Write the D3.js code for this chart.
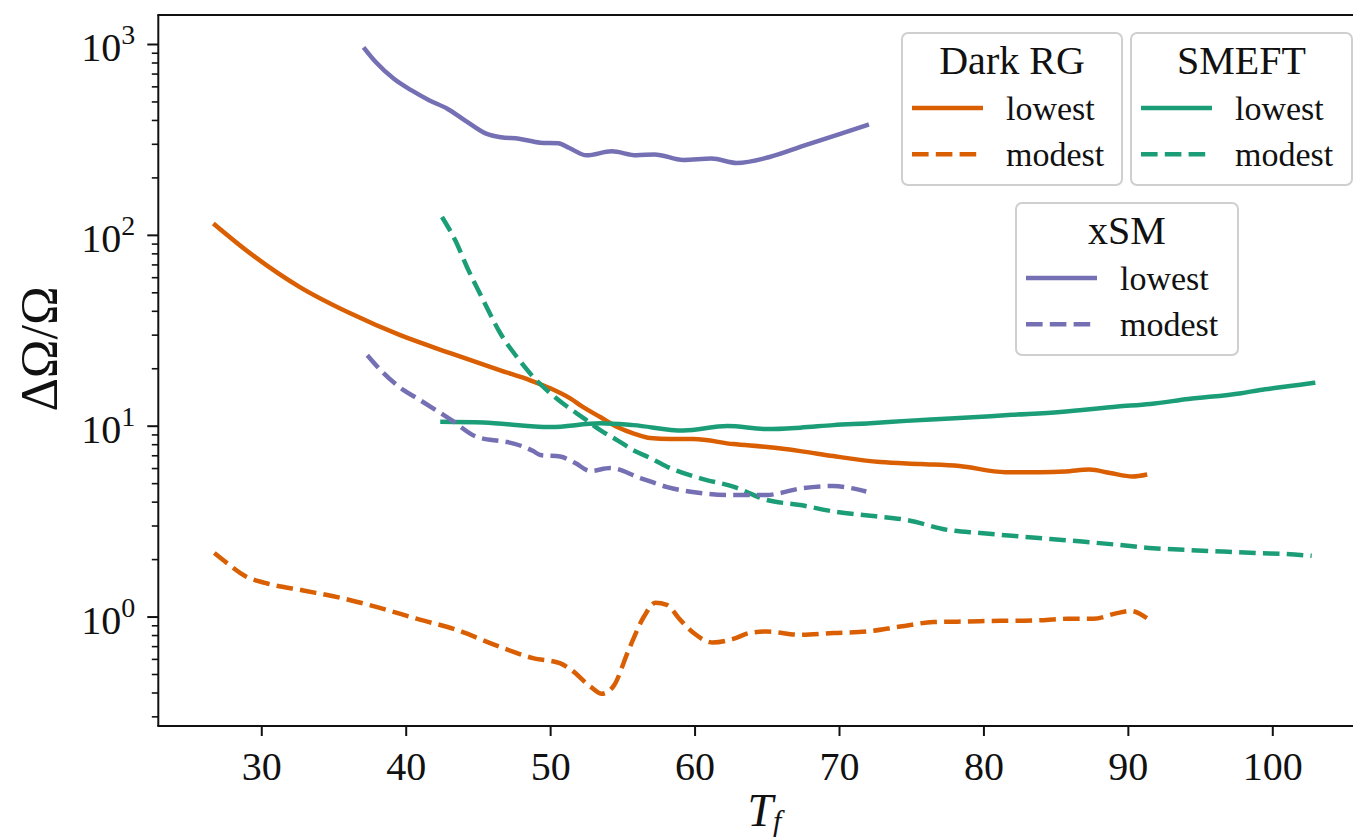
<!DOCTYPE html>
<html><head><meta charset="utf-8">
<script src="https://cdn.jsdelivr.net/npm/d3@7"></script>
<style>
body{margin:0;background:#fff;}
svg{display:block;}
text{font-family:"Liberation Serif","Times New Roman",serif;fill:#111;}
</style>
</head><body><svg id="c" width="1353" height="840"></svg>
<script>
// ---- data ----
const xTicks = [30, 40, 50, 60, 70, 80, 90, 100];
const yTicks = [1, 10, 100, 1000];
const yTickExp = ["0", "1", "2", "3"];

const darkLowT = [26.68,29.24,32.70,36.16,39.62,43.09,46.55,48.62,50.01,51.39,52.29,53.47,54.65,55.89,56.93,58.32,59.91,62.68,65.03,67.32,69.60,72.86,75.63,78.33,81.51,83.94,85.67,87.33,88.78,90.31,91.34];
const darkLowV = [114.8,80.0,53.1,38.8,29.8,24.0,19.5,17.3,15.7,13.9,12.5,11.1,9.84,9.04,8.61,8.51,8.51,8.01,7.73,7.36,6.93,6.45,6.30,6.15,5.71,5.71,5.75,5.89,5.65,5.42,5.55];

const darkModT = [26.75,27.61,28.94,30.26,32.91,35.57,38.21,40.86,43.52,46.16,48.81,50.67,51.46,52.78,53.58,54.37,55.44,56.50,57.29,58.08,59.01,59.94,61.27,62.68,63.86,65.01,67.32,69.60,71.94,74.24,76.53,78.86,81.17,83.45,85.78,87.61,89.25,90.17,91.32];
const darkModV = [2.15,1.91,1.62,1.50,1.37,1.25,1.11,0.969,0.852,0.711,0.606,0.570,0.526,0.430,0.394,0.430,0.669,1.00,1.18,1.15,0.961,0.819,0.731,0.764,0.822,0.835,0.802,0.819,0.835,0.886,0.935,0.942,0.950,0.953,0.973,0.973,1.042,1.071,0.981];

const smeftLowT = [42.39,45.37,50.01,53.47,55.76,59.22,62.26,65.03,67.32,69.60,72.17,74.66,77.70,81.97,85.32,89.30,91.55,94.18,97.85,99.17,100.28,101.94,102.98];
const smeftLowV = [10.5,10.4,9.83,10.3,10.07,9.43,9.95,9.60,9.77,10.07,10.3,10.6,10.9,11.4,11.8,12.6,13.0,13.8,14.8,15.4,15.8,16.4,16.8];

const smeftModT = [42.51,43.43,44.24,45.37,46.55,47.70,48.83,50.01,51.17,52.29,53.47,54.63,55.76,56.93,58.09,60.40,62.68,65.01,67.32,69.74,72.17,74.64,77.57,79.78,81.97,84.63,86.84,89.47,91.74,94.32,96.61,99.07,100.90,102.73];
const smeftModV = [124,93.6,67.9,45.4,30.5,22.9,18.0,14.8,12.6,11.0,9.48,8.41,7.45,6.77,6.10,5.30,4.79,4.08,3.84,3.54,3.37,3.21,2.84,2.74,2.65,2.55,2.47,2.37,2.28,2.23,2.19,2.15,2.13,2.08];

const xsmLowT = [37.08,37.94,39.18,40.41,41.65,42.88,44.12,45.61,46.60,47.84,49.32,50.56,51.30,52.53,54.26,55.99,57.23,59.21,61.18,62.92,65.14,67.62,70.09,72.07];
const xsmLowV = [961,802,657,571,506,458,397,338,325,319,304,302,286,261,274,261,264,247,251,238,255,294,338,379];

const xsmModT = [37.34,38.45,39.83,40.80,43.09,44.96,46.55,47.03,48.83,49.32,50.70,51.74,52.78,54.16,56.24,58.11,60.40,62.68,65.03,65.93,67.32,69.60,70.78,71.89];
const xsmModV = [23.4,18.9,15.4,13.9,10.8,8.72,8.31,8.21,7.36,7.02,6.89,6.37,5.79,6.00,5.32,4.77,4.44,4.33,4.33,4.44,4.69,4.83,4.72,4.52];

const groups = ["Dark RG", "SMEFT", "xSM"];
const variants = ["lowest", "modest"];
const colors = {"Dark RG": "#d95f02", "SMEFT": "#1b9e77", "xSM": "#7570b3"};

const series = [
  {g: "Dark RG", v: "lowest", T: darkLowT, V: darkLowV},
  {g: "Dark RG", v: "modest", T: darkModT, V: darkModV},
  {g: "SMEFT", v: "lowest", T: smeftLowT, V: smeftLowV},
  {g: "SMEFT", v: "modest", T: smeftModT, V: smeftModV},
  {g: "xSM", v: "lowest", T: xsmLowT, V: xsmLowV},
  {g: "xSM", v: "modest", T: xsmModT, V: xsmModV}
];

// ---- layout ----
const L = 158.3, R = 1370.5, TOP = 15, BOT = 726;
const LW = 4.5, DASH = "16.6,7.2";
const svg = d3.select("#c");
svg.append("rect").attr("width", 1353).attr("height", 840).attr("fill", "#fff");

const x = d3.scaleLinear().domain([22.87, 106.8]).range([L, R]);
const y = d3.scaleLog().domain([0.267, 1419]).range([BOT, TOP]);

// lines
const plot = svg.append("g");
const line = d3.line().curve(d3.curveMonotoneX);
series.forEach(s => {
  const pts = s.T.map((t, i) => [x(t), y(s.V[i])]);
  plot.append("path")
    .attr("d", line(pts))
    .attr("fill", "none")
    .attr("stroke", colors[s.g])
    .attr("stroke-width", LW)
    .attr("stroke-linejoin", "round")
    .attr("stroke-dasharray", s.v === "modest" ? DASH : null);
});

// axes
const xAxis = d3.axisBottom(x).tickValues(xTicks).tickSize(10).tickPadding(6).tickFormat(d3.format("d"));
const gx = svg.append("g").attr("transform", `translate(0,${BOT})`).call(xAxis);
gx.select(".domain").remove();
gx.selectAll(".tick line").attr("stroke", "#111").attr("stroke-width", 2);
gx.selectAll(".tick text").attr("font-size", 40).attr("font-family", "Liberation Serif").attr("fill", "#111")
  .attr("y", 54).attr("dy", null);

// y minor ticks
const minors = [];
[0.1, 1, 10, 100, 1000].forEach(dec => { for (let k = 2; k <= 9; k++) { const v = dec * k; if (v > 0.267 && v < 1419) minors.push(v); } });
const gyMinor = svg.append("g").attr("transform", `translate(${L},0)`)
  .call(d3.axisLeft(y).tickValues(minors).tickSize(6.5).tickFormat(""));
gyMinor.select(".domain").remove();
gyMinor.selectAll(".tick line").attr("stroke", "#111").attr("stroke-width", 1.6);

const gy = svg.append("g").attr("transform", `translate(${L},0)`)
  .call(d3.axisLeft(y).tickValues(yTicks).tickSize(11).tickFormat(""));
gy.select(".domain").remove();
gy.selectAll(".tick line").attr("stroke", "#111").attr("stroke-width", 2);
gy.selectAll(".tick").each(function(d, i) {
  const t = d3.select(this).append("text")
    .attr("x", -23).attr("y", 16.5)
    .attr("text-anchor", "end").attr("fill", "#111");
  t.append("tspan").attr("font-size", 40).text("10");
  t.append("tspan").attr("font-size", 28).attr("dy", -17).text(yTickExp[i]);
});

// spines
svg.append("line").attr("x1", L).attr("x2", L).attr("y1", TOP).attr("y2", BOT).attr("stroke", "#111").attr("stroke-width", 2);
svg.append("line").attr("x1", L - 1).attr("x2", R).attr("y1", BOT).attr("y2", BOT).attr("stroke", "#111").attr("stroke-width", 2);
svg.append("line").attr("x1", L - 1).attr("x2", R).attr("y1", TOP).attr("y2", TOP).attr("stroke", "#111").attr("stroke-width", 2);

// axis labels
const xl = svg.append("text").attr("x", (L + R) / 2).attr("y", 826).attr("text-anchor", "middle");
xl.append("tspan").attr("font-size", 46).attr("font-style", "italic").text("T");
xl.append("tspan").attr("font-size", 30).attr("font-style", "italic").attr("dy", 5).text("f");

svg.append("text").attr("transform", "translate(57,349) rotate(-90)")
  .attr("text-anchor", "middle").attr("font-size", 52).text("ΔΩ/Ω");

// legends
const legends = [
  {g: "Dark RG", x0: 902, y0: 33, w: 220, h: 152},
  {g: "SMEFT", x0: 1131, y0: 33, w: 221, h: 152},
  {g: "xSM", x0: 1016, y0: 203, w: 222, h: 152}
];
legends.forEach(lg => {
  const g = svg.append("g").attr("transform", `translate(${lg.x0},${lg.y0})`);
  g.append("rect").attr("width", lg.w).attr("height", lg.h).attr("rx", 6).attr("ry", 6)
    .attr("fill", "#fff").attr("fill-opacity", 0.85).attr("stroke", "#cfcfcf").attr("stroke-width", 2);
  g.append("text").attr("x", lg.w / 2).attr("y", 41).attr("text-anchor", "middle").attr("font-size", 40).text(lg.g);
  variants.forEach((v, i) => {
    const yy = 75 + i * 46.3;
    g.append("line").attr("x1", 10).attr("x2", 81).attr("y1", yy).attr("y2", yy)
      .attr("stroke", colors[lg.g]).attr("stroke-width", LW)
      .attr("stroke-dasharray", v === "modest" ? DASH : null);
    g.append("text").attr("x", 104).attr("y", yy + 11.5).attr("font-size", 34).text(v);
  });
});
</script>
</body></html>
